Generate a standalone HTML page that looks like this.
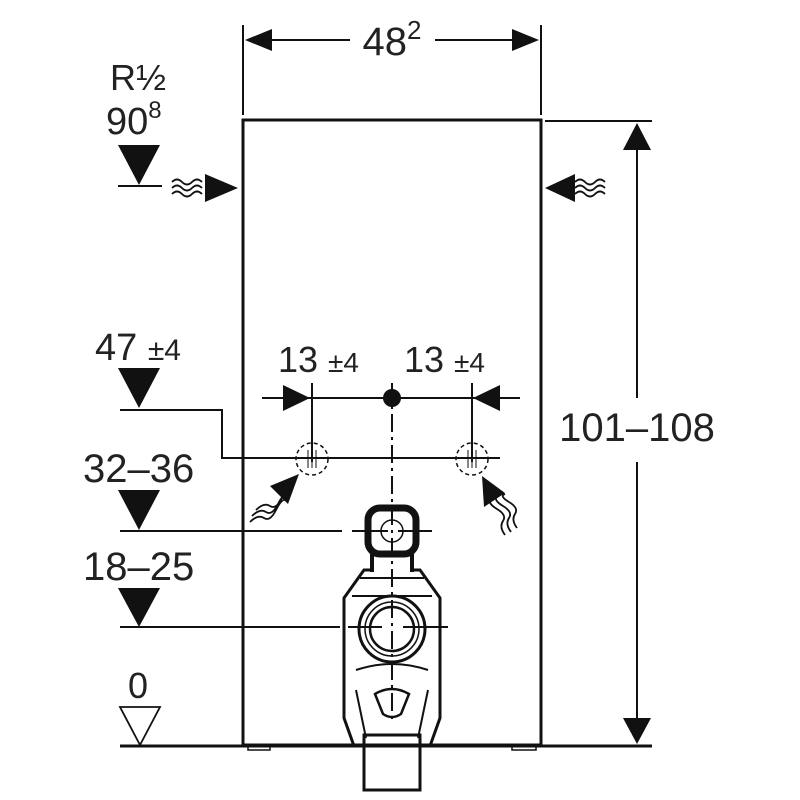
<!DOCTYPE html>
<html><head><meta charset="utf-8"><style>
html,body{margin:0;padding:0;background:#fff;width:800px;height:800px;overflow:hidden}
text{font-family:"Liberation Sans",sans-serif;fill:#222}
</style></head><body>
<svg width="800" height="800" viewBox="0 0 800 800" xmlns="http://www.w3.org/2000/svg">
<g stroke="#111" fill="none" stroke-width="2">
<rect x="243" y="120" width="298" height="625" stroke-width="3"/>
<line x1="120" y1="746" x2="652" y2="746" stroke-width="3"/>
<path d="M248 746v4h22v-4M512 746v4h24v-4" stroke-width="1.5"/>
<line x1="243" y1="25" x2="243" y2="115"/>
<line x1="541" y1="25" x2="541" y2="115"/>
<line x1="272" y1="40" x2="350" y2="40"/>
<line x1="435" y1="40" x2="512" y2="40"/>
<line x1="545" y1="121" x2="652" y2="121"/>
<line x1="637" y1="150" x2="637" y2="398"/>
<line x1="637" y1="462" x2="637" y2="718"/>
<line x1="118" y1="186" x2="162" y2="186"/>
<path d="M120 410H222V458H500"/>
<path d="M120 531H342M352 531H388M398 531H432"/>
<path d="M120 627H340M348 627H382M403 627H448"/>
<line x1="262" y1="398" x2="520" y2="398"/>
<line x1="312" y1="383" x2="312" y2="462"/>
<line x1="472" y1="383" x2="472" y2="462"/>
<line x1="392" y1="383" x2="392" y2="720" stroke-dasharray="18 5 3 5"/>
<circle cx="312" cy="459" r="16" stroke-dasharray="4 3" stroke-width="1.5"/>
<circle cx="472" cy="459" r="16" stroke-dasharray="4 3" stroke-width="1.5"/>
<path d="M308 450v18M312 450v18M316 450v18M468 450v18M472 450v18M476 450v18" stroke-width="1"/>
<path d="M172 182q5-5 10 0t10 0t10 0M172 188q5-5 10 0t10 0t10 0M172 194q5-5 10 0t10 0t10 0" stroke-width="1.8"/>
<path d="M575 182q5-5 10 0t10 0t10 0M575 188q5-5 10 0t10 0t10 0M575 194q5-5 10 0t10 0t10 0" stroke-width="1.8"/>
<path d="M250 522q8-8 14-4t12-8t10-10M252 516q8-8 14-4t12-8t10-10M256 510q8-8 14-4t12-8t6-8" stroke-width="1.8"/>
<path d="M505 535q-6-8-2-14t-6-12t-6-10M511 532q-6-8-2-14t-6-12t-6-10M517 528q-6-8-2-14t-6-12t-4-8" stroke-width="1.8"/>
<rect x="368" y="508" width="48" height="46" rx="12" stroke-width="7"/>
<circle cx="392" cy="531" r="11" stroke-width="1.5"/>
<path d="M372 554v18M412 554v18" stroke-width="4"/>
<path d="M372 570h-8l-20 28v120l10 28M412 570h8l20 28v120l-10 28" stroke-width="3"/>
<path d="M360 578h64M352 596h80" stroke-width="2"/>
<circle cx="392" cy="629" r="33" stroke-width="3"/>
<circle cx="392" cy="629" r="27" stroke-width="1.5"/>
<circle cx="392" cy="629" r="22" stroke-width="2.5"/>
<path d="M356 670q36-12 72 0" stroke-width="2"/>
<path d="M375 694q17-10 34 0l-8 20q-9 6-18 0z" stroke-width="2.5"/>
<path d="M356 690l10 48M428 690l-10 48" stroke-width="2"/>
<rect x="364" y="735" width="56" height="55" stroke-width="3"/>
</g>
<g fill="#111" stroke="none">
<polygon points="245,40 272,29 272,51"/>
<polygon points="539,40 512,29 512,51"/>
<polygon points="637,123 623,150 651,150"/>
<polygon points="637,744 623,718 651,718"/>
<polygon points="238,188 205,174 205,202"/>
<polygon points="545,188 575,174 575,202"/>
<polygon points="118,145 160,145 139,185"/>
<polygon points="118,368 160,368 139,408"/>
<polygon points="118,490 160,490 139,530"/>
<polygon points="118,588 160,588 139,627"/>
<polygon points="310,398 283,385 283,411"/>
<polygon points="473,398 500,385 500,411"/>
<circle cx="392" cy="398" r="9"/>
<polygon points="299,474 270,486 288,504"/>
<polygon points="482,476 484,507 505,493"/>
</g>
<polygon points="120,707 160,707 140,745" fill="none" stroke="#111" stroke-width="1.8"/>
<text x="110" y="90" font-size="36">R½</text>
<text x="106" y="134" font-size="38">90<tspan font-size="24" dy="-16">8</tspan></text>
<text x="392" y="55" font-size="40" text-anchor="middle">48<tspan font-size="26" dy="-16">2</tspan></text>
<text x="637" y="441" font-size="40" text-anchor="middle">101–108</text>
<text x="95" y="360" font-size="38">47 <tspan font-size="30">±4</tspan></text>
<text x="278" y="372" font-size="36">13 <tspan font-size="28">±4</tspan></text>
<text x="404" y="372" font-size="36">13 <tspan font-size="28">±4</tspan></text>
<text x="83" y="482" font-size="40">32–36</text>
<text x="83" y="580" font-size="40">18–25</text>
<text x="128" y="698" font-size="36">0</text>
</svg>
</body></html>
